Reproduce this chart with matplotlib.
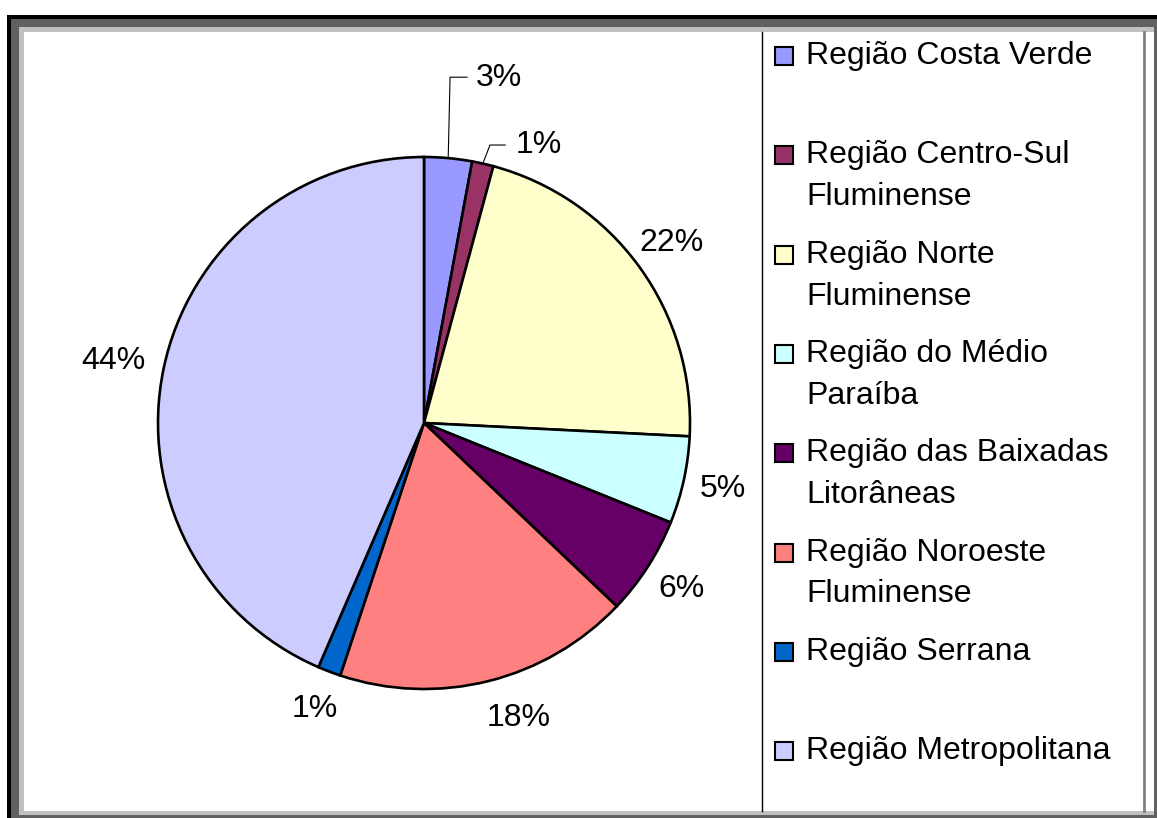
import numpy as np
import matplotlib
matplotlib.use("Agg")
import matplotlib.pyplot as plt
from matplotlib.patches import Rectangle

plt.rcParams["font.family"] = ["Liberation Sans", "DejaVu Sans"]

regions = [
    "Região Costa Verde",
    "Região Centro-Sul\nFluminense",
    "Região Norte\nFluminense",
    "Região do Médio\nParaíba",
    "Região das Baixadas\nLitorâneas",
    "Região Noroeste\nFluminense",
    "Região Serrana",
    "Região Metropolitana",
]
shares = [2.9, 1.3, 21.6, 5.3, 6.0, 18.0, 1.4, 43.5]
pct_labels = ["3%", "1%", "22%", "5%", "6%", "18%", "1%", "44%"]
colors = ["#9999FF", "#993366", "#FFFFCC", "#CCFFFF",
          "#660066", "#FF8080", "#0066CC", "#CCCCFF"]

W, H = 1157, 818
FS = 23
fig = plt.figure(figsize=(W / 100, H / 100), dpi=100)


def fx(px):
    return px / W


def fy(py):
    return 1 - py / H


def frect(x0, y0, x1, y1, color, **kw):
    fig.patches.append(Rectangle((fx(x0), fy(y1)), fx(x1) - fx(x0), fy(y0) - fy(y1),
                                 transform=fig.transFigure, facecolor=color,
                                 edgecolor="none", zorder=-5, **kw))


# window frame (cropped screenshot look)
frect(7, 15, W + 5, H + 5, "black")
frect(11, 19, W + 5, H + 5, "#606060")
frect(19, 27, 1154, 815, "#C0C0C0")
frect(24, 32, 1154, 811, "white")

# pie axes: center (424, 423) px, radius 266 px
cx, cy, r = 424, 423, 266
half = 320
ax = fig.add_axes([fx(cx - half), fy(cy + half), 2 * half / W, 2 * half / H])
ax.set_zorder(5)

wedges, texts = ax.pie(
    shares, colors=colors, startangle=90, counterclock=False,
    labels=pct_labels, labeldistance=1.15,
    wedgeprops=dict(edgecolor="black", linewidth=1.9),
    textprops=dict(fontsize=FS, color="black"),
)
ax.set_xlim(-half / r, half / r)
ax.set_ylim(-half / r, half / r)
ax.axis("off")
for t in texts:
    t.set_ha("center")
    t.set_va("center")


def rim(w):
    a = np.deg2rad((w.theta1 + w.theta2) / 2)
    return np.cos(a), np.sin(a)

# small slices at the top get leader lines
leaders = {0: ((0.098, 1.30), (0.162, 1.30), (0.28, 1.297)),
           1: ((0.248, 1.045), (0.305, 1.045), (0.43, 1.045))}
for i, (elbow, end, txt) in leaders.items():
    x0, y0 = rim(wedges[i])
    ax.plot([x0, elbow[0], end[0]], [y0, elbow[1], end[1]],
            color="black", lw=0.8, clip_on=False)
    texts[i].set_position(txt)

texts[5].set_position(((519 - cx) / r, (cy - 718) / r))
texts[7].set_position(((113 - cx) / r, (cy - 361) / r))

# legend box
fig.add_artist(plt.Line2D([fx(762), fx(762)], [fy(32), fy(811)],
                          transform=fig.transFigure, color="black", lw=1))
fig.add_artist(plt.Line2D([fx(1144), fx(1144)], [fy(32), fy(811)],
                          transform=fig.transFigure, color="#808080", lw=2))

for k, (name, col) in enumerate(zip(regions, colors)):
    y_top = 56 + 99.3 * k
    fig.patches.append(Rectangle((fx(775), fy(y_top + 9)), fx(18), 18 / H,
                                 transform=fig.transFigure, facecolor=col,
                                 edgecolor="black", lw=1.5))
    for j, line in enumerate(name.split("\n")):
        fig.text(fx(806), fy(y_top + 42 * j), line, fontsize=FS,
                 ha="left", va="center")

fig.savefig("out.png", dpi=100)
